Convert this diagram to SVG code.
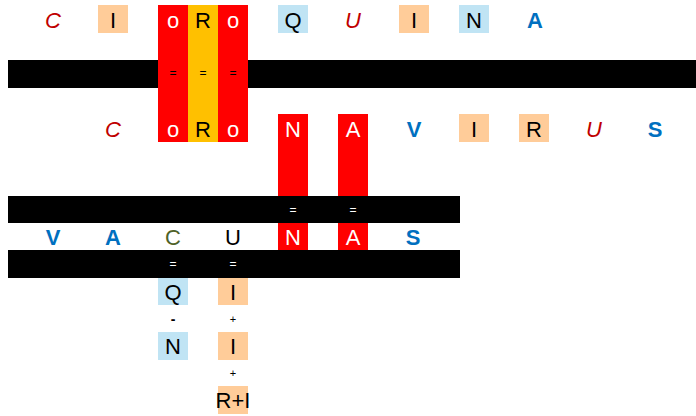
<svg xmlns="http://www.w3.org/2000/svg" width="696" height="416" viewBox="0 0 696 416">
<style>
text{font-family:"Liberation Sans",Arial,sans-serif;text-anchor:middle}
.L{font-size:22px;fill:#000}
.r{fill:#C00000;font-style:italic}
.b{fill:#0070C0;font-weight:bold}
.g{fill:#4F6228}
.w{fill:#fff}
.eq{font-size:12px;fill:#000}
.eqw{font-size:12px;fill:#fff}
.pk{fill:#FFCC99}
.bl{fill:#C0E4F4}
.rd{fill:#FF0000}
.yl{fill:#FFC000}
.bar{fill:#000}
</style>
<g id="bars">
<rect class="bar" x="8" y="60" width="688" height="28"/>
<rect class="bar" x="8" y="196" width="452" height="27"/>
<rect class="bar" x="8" y="250" width="452" height="28"/>
</g>
<g id="oro-column">
<rect class="rd" x="158" y="5" width="30" height="137"/>
<rect class="yl" x="188" y="5" width="30" height="137"/>
<rect class="rd" x="218" y="5" width="30" height="137"/>
<text class="eq" x="173" y="77">=</text>
<text class="eq" x="203" y="77">=</text>
<text class="eq" x="233" y="77">=</text>
</g>
<g id="na-columns">
<rect class="rd" x="278" y="114" width="30" height="82"/>
<rect class="rd" x="338" y="114" width="30" height="82"/>
<rect class="rd" x="278" y="223" width="30" height="27"/>
<rect class="rd" x="338" y="223" width="30" height="27"/>
<text class="eqw" x="293" y="214">=</text>
<text class="eqw" x="353" y="214">=</text>
</g>
<g id="row1">
<text class="L r" x="53" y="28">C</text>
<rect class="pk" x="98" y="5" width="30" height="28"/><text class="L" x="113" y="28">I</text>
<text class="L w" x="173" y="28">o</text>
<text class="L" x="203" y="28">R</text>
<text class="L w" x="233" y="28">o</text>
<rect class="bl" x="278" y="5" width="30" height="28"/><text class="L" x="293" y="28">Q</text>
<text class="L r" x="353" y="28">U</text>
<rect class="pk" x="399" y="5" width="30" height="28"/><text class="L" x="414" y="28">I</text>
<rect class="bl" x="459" y="5" width="30" height="28"/><text class="L" x="474" y="28">N</text>
<text class="L b" x="535" y="28">A</text>
</g>
<g id="row2">
<text class="L r" x="113" y="137">C</text>
<text class="L w" x="173" y="137">o</text>
<text class="L" x="203" y="137">R</text>
<text class="L w" x="233" y="137">o</text>
<text class="L w" x="293" y="137">N</text>
<text class="L w" x="353" y="137">A</text>
<text class="L b" x="414" y="137">V</text>
<rect class="pk" x="459" y="114" width="30" height="28"/><text class="L" x="474" y="137">I</text>
<rect class="pk" x="519" y="114" width="30" height="28"/><text class="L" x="534" y="137">R</text>
<text class="L r" x="594" y="137">U</text>
<text class="L b" x="655" y="137">S</text>
</g>
<g id="row3">
<text class="L b" x="53" y="245">V</text>
<text class="L b" x="113" y="245">A</text>
<text class="L g" x="173" y="245">C</text>
<text class="L" x="233" y="245">U</text>
<text class="L w" x="293" y="245">N</text>
<text class="L w" x="353" y="245">A</text>
<text class="L b" x="413" y="245">S</text>
<text class="eqw" x="173" y="268">=</text>
<text class="eqw" x="233" y="268">=</text>
</g>
<g id="calc">
<rect class="bl" x="158" y="278" width="30" height="27"/><text class="L" x="173" y="300">Q</text>
<rect class="pk" x="218" y="278" width="30" height="27"/><text class="L" x="233" y="300">I</text>
<text x="173" y="324" style="font-size:14px;font-weight:bold">-</text>
<text x="233" y="323" style="font-size:11px">+</text>
<rect class="bl" x="158" y="332" width="30" height="28"/><text class="L" x="173" y="354">N</text>
<rect class="pk" x="218" y="332" width="30" height="28"/><text class="L" x="233" y="354">I</text>
<text x="233" y="377" style="font-size:11px">+</text>
<rect class="pk" x="218" y="386" width="30" height="28"/><text class="L" x="233" y="408">R+I</text>
</g>
</svg>
